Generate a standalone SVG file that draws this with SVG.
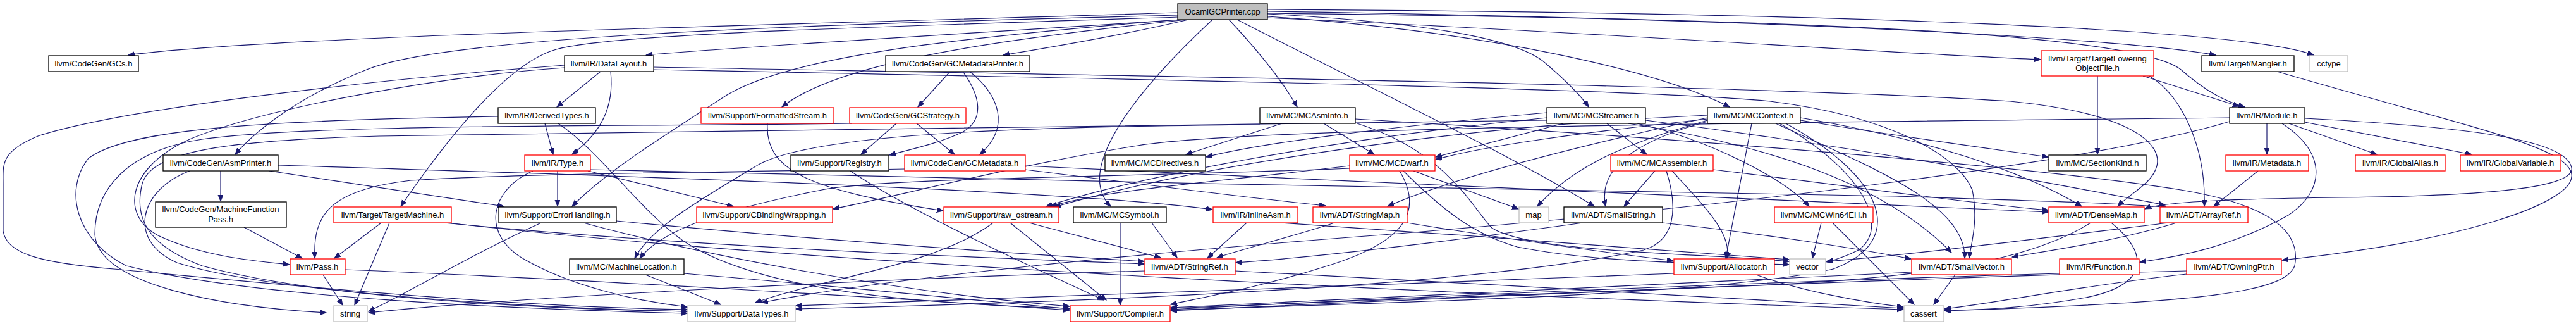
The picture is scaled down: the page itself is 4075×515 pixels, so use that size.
<svg xmlns="http://www.w3.org/2000/svg" width="4075" height="515" viewBox="0 0 4075 515">
<style>
.n rect{fill:#fff;stroke:#000;stroke-width:1.3}
.n.r rect{stroke:#ff0000}
.n.g rect{stroke:#bfbfbf}
.n.root rect{fill:#bfbfbf;stroke:#000}
.n text{font-family:"Liberation Sans",Arial,sans-serif;font-size:13px;text-anchor:middle;fill:#000}
#edges path{fill:none;stroke:#191970;stroke-width:1.2;marker-end:url(#a)}
</style>
<defs>
<marker id="a" markerUnits="userSpaceOnUse" markerWidth="12" markerHeight="9" refX="10" refY="4" orient="auto"><path d="M0,0 L10,4 L0,8 z" fill="#191970" stroke="#191970" stroke-width="1"/></marker>
</defs>
<rect width="4075" height="515" fill="#fff"/>
<g id="edges">
<path d="M1863,20 C1300,38 450,55 203,87"/>
<path d="M1863,24 C1200,40 700,60 580,110 C480,150 410,200 372,244"/>
<path d="M1870,31 C1500,55 1150,75 1022,87"/>
<path d="M1863,27 C1300,45 960,55 880,78 C800,100 700,230 634,326"/>
<path d="M1878,31 C1600,60 1330,95 1237,169"/>
<path d="M1866,31 C1500,60 1250,90 1150,150 C1050,215 960,270 905,326"/>
<path d="M1880,31 C1780,55 1660,75 1587,87"/>
<path d="M1918,31 C1790,150 1700,270 1757,326"/>
<path d="M1944,31 C1990,80 2030,130 2052,169"/>
<path d="M1957,31 C2150,130 2400,250 2522,326"/>
<path d="M2005,22 C2250,35 2400,60 2445,100 C2480,130 2500,150 2513,169"/>
<path d="M2005,26 C2350,50 2620,110 2736,169"/>
<path d="M2005,28 C2600,55 3000,85 3228,94"/>
<path d="M2005,18 C2800,30 3350,60 3505,87"/>
<path d="M2005,15 C2900,20 3550,45 3660,87"/>
<path d="M2005,21 C2900,30 3380,55 3450,110 C3490,145 3520,160 3551,169"/>
<path d="M349,270 L349,318"/>
<path d="M300,270 C220,300 200,380 280,415 C420,460 800,485 1087,492"/>
<path d="M426,270 L797,326"/>
<path d="M440,261 C900,275 1700,300 1918,331"/>
<path d="M386,359 L478,408"/>
<path d="M603,352 L529,408"/>
<path d="M616,352 L561,482"/>
<path d="M702,352 C1100,390 1500,405 1810,417"/>
<path d="M708,352 C1300,420 2400,470 3011,489"/>
<path d="M511,434 L542,482"/>
<path d="M546,426 C900,440 1400,470 1692,490"/>
<path d="M950,113 L881,169"/>
<path d="M966,113 C972,170 950,210 905,244"/>
<path d="M893,107 C700,120 420,170 300,220 C200,265 190,340 250,372 C320,405 400,412 458,418"/>
<path d="M893,103 C600,125 200,170 60,215 C0,240 5,260 5,290 L5,365 C10,400 60,415 180,425 C450,450 800,485 1087,489"/>
<path d="M1034,106 C1800,120 2800,135 3180,160 C3380,180 3420,230 3412,262 C3405,290 3370,305 3350,326"/>
<path d="M1034,110 C1800,125 2600,140 2800,160 C3000,185 3100,250 3120,300 C3130,350 3118,385 3115,408"/>
<path d="M862,195 L875,244"/>
<path d="M883,195 C950,240 1010,330 1080,380 C1200,460 1450,480 1692,487"/>
<path d="M788,184 C400,190 200,205 140,250 C100,300 120,380 200,420 C400,470 800,488 1087,495"/>
<path d="M1348,195 C1000,200 500,195 320,220 C200,238 150,300 150,370 C155,450 350,485 516,494"/>
<path d="M2447,190 C2000,198 1200,205 600,215 C350,222 240,240 225,290 C210,350 240,390 320,420 C500,470 850,488 1087,492"/>
<path d="M856,352 C750,400 650,460 583,492"/>
<path d="M975,349 C1300,380 1600,400 1810,413"/>
<path d="M923,352 C1100,400 1400,460 1692,484"/>
<path d="M882,270 L882,326"/>
<path d="M930,270 L1160,326"/>
<path d="M843,270 C775,300 760,370 830,410 C900,450 1000,475 1087,485"/>
<path d="M934,268 C1500,285 2500,300 3000,310 C3250,318 3380,322 3428,328"/>
<path d="M1214,195 C1210,270 1280,300 1492,333"/>
<path d="M1503,113 L1452,169"/>
<path d="M1523,113 C1550,150 1560,190 1520,210 C1480,228 1440,236 1407,245"/>
<path d="M1534,113 C1580,150 1600,200 1550,244"/>
<path d="M1450,195 L1510,244"/>
<path d="M1418,195 L1362,244"/>
<path d="M1431,267 C1100,272 800,275 650,285 C520,300 495,340 498,408"/>
<path d="M1622,262 C2200,290 2900,320 3240,335"/>
<path d="M1622,268 C1800,290 1950,310 2097,325"/>
<path d="M1345,270 C1450,340 1650,430 1746,474"/>
<path d="M2028,195 L1876,244"/>
<path d="M2094,195 L2174,244"/>
<path d="M1993,197 C1700,200 1300,205 1200,260 C1100,320 1030,360 1004,408"/>
<path d="M2147,195 C2290,240 2330,330 2360,360 C2420,400 2700,400 2830,413"/>
<path d="M2144,188 C2600,215 3200,260 3450,300 C3600,325 3640,370 3630,420 C3615,460 3500,478 3076,491"/>
<path d="M1822,352 L1862,407"/>
<path d="M1772,352 L1772,482"/>
<path d="M1972,352 L1910,408"/>
<path d="M2027,352 C2300,370 2700,400 2830,410"/>
<path d="M1628,352 L1836,407"/>
<path d="M1598,352 L1750,474"/>
<path d="M1571,352 C1480,420 1300,440 1195,478"/>
<path d="M1811,428 C1400,440 800,470 583,494"/>
<path d="M1954,428 C2300,445 2700,470 3011,487"/>
<path d="M2236,270 L2402,330"/>
<path d="M2214,270 C2250,330 2230,380 2100,420 C1990,455 1900,470 1852,481"/>
<path d="M2220,270 C2280,330 2330,370 2400,390 C2550,420 2750,415 2830,418"/>
<path d="M2135,266 C1800,280 1400,280 1300,300 C1150,330 1050,360 1012,408"/>
<path d="M2135,262 C1900,290 1750,300 1662,326"/>
<path d="M2447,178 C2200,200 2000,225 1908,248"/>
<path d="M2473,195 L2271,248"/>
<path d="M2542,195 L2605,244"/>
<path d="M2447,186 C2100,220 1800,280 1655,326"/>
<path d="M2576,195 C2800,230 2980,290 3087,399"/>
<path d="M2603,190 C3000,240 3300,300 3425,324"/>
<path d="M2590,195 C2700,220 2820,280 2862,326"/>
<path d="M2701,188 C2500,210 2350,230 2271,252"/>
<path d="M2848,190 C3000,215 3150,235 3240,248"/>
<path d="M2701,192 C2560,230 2530,280 2540,326"/>
<path d="M2701,190 C2600,220 2500,250 2432,326"/>
<path d="M2701,186 C2500,230 2300,280 2195,326"/>
<path d="M2771,195 L2730,408"/>
<path d="M2848,186 C3050,220 3200,270 3293,326"/>
<path d="M2809,195 C2950,260 3110,320 3108,408"/>
<path d="M2815,195 C2950,270 2990,360 2940,395 C2920,405 2905,410 2890,414"/>
<path d="M2701,182 C2300,200 1900,260 1668,327"/>
<path d="M2825,195 C2980,280 3020,380 2900,425 C2700,470 2100,480 1852,490"/>
<path d="M2618,270 L2569,326"/>
<path d="M2710,268 C2900,290 3100,320 3240,332"/>
<path d="M2636,270 C2655,330 2650,380 2600,395 C2300,460 1600,480 1259,488"/>
<path d="M2645,270 C2700,330 2740,370 2732,408"/>
<path d="M2881,352 L2867,408"/>
<path d="M2899,352 L3028,481"/>
<path d="M2111,352 C2040,375 1970,392 1925,407"/>
<path d="M2226,352 C2400,380 2550,400 2647,412"/>
<path d="M2504,352 C2300,380 2100,405 1955,415"/>
<path d="M2630,352 C2800,370 2950,395 3023,409"/>
<path d="M2778,434 C2850,460 2950,478 3011,485"/>
<path d="M2648,432 C2200,450 1600,470 1259,483"/>
<path d="M3307,352 C3200,420 3000,440 2800,450 C2400,465 2000,480 1852,487"/>
<path d="M3340,352 C3400,400 3400,450 3300,470 C3200,488 3120,490 3076,490"/>
<path d="M3093,434 L3059,481"/>
<path d="M3024,430 C2600,450 2200,470 1852,486"/>
<path d="M3443,352 C3350,380 3250,395 3183,406"/>
<path d="M3430,352 C3200,380 3000,405 2889,413"/>
<path d="M3258,432 C2800,445 2200,470 1852,489"/>
<path d="M3459,428 C3000,440 2300,470 1852,491"/>
<path d="M3459,433 C3300,450 3150,480 3076,488"/>
<path d="M3586,195 L3586,244"/>
<path d="M3621,195 L3760,244"/>
<path d="M3646,193 L3910,244"/>
<path d="M3646,187 C3900,200 4060,220 4068,265 C4075,300 3900,310 3700,312 C3550,314 3420,318 3393,330"/>
<path d="M3602,113 C3900,200 4060,230 4068,275 C4075,320 3900,380 3610,411"/>
<path d="M3610,195 C3680,240 3680,300 3620,340 C3530,390 3450,405 3385,414"/>
<path d="M3527,186 C3000,192 2000,198 1800,230 C1600,262 1420,310 1318,330"/>
<path d="M3527,192 C3300,260 2700,330 2200,370 C1800,400 1400,440 1205,478"/>
<path d="M3572,270 L3502,326"/>
<path d="M3318,120 L3318,244"/>
<path d="M3390,120 L3542,168"/>
<path d="M3400,120 C3450,150 3490,230 3487,326"/>
<path d="M1021,434 L1140,481"/>
<path d="M1082,432 C1300,450 1550,475 1692,488"/>
</g>
<g id="root" class="n root"><rect x="1863" y="6" width="142" height="25"/><text x="1934" y="23">OcamlGCPrinter.cpp</text></g>
<g id="gcs" class="n"><rect x="77" y="88" width="142" height="25"/><text x="148" y="105">llvm/CodeGen/GCs.h</text></g>
<g id="datalayout" class="n"><rect x="893" y="88" width="141" height="25"/><text x="963" y="105">llvm/IR/DataLayout.h</text></g>
<g id="gcmetadataprinter" class="n"><rect x="1401" y="88" width="228" height="25"/><text x="1515" y="105">llvm/CodeGen/GCMetadataPrinter.h</text></g>
<g id="tlof" class="n r"><rect x="3229" y="80" width="178" height="40"/><text x="3318" y="97">llvm/Target/TargetLowering</text><text x="3318" y="112">ObjectFile.h</text></g>
<g id="mangler" class="n"><rect x="3483" y="88" width="146" height="25"/><text x="3556" y="105">llvm/Target/Mangler.h</text></g>
<g id="cctype" class="n g"><rect x="3654" y="88" width="60" height="25"/><text x="3684" y="105">cctype</text></g>
<g id="derivedtypes" class="n"><rect x="788" y="170" width="154" height="25"/><text x="865" y="187">llvm/IR/DerivedTypes.h</text></g>
<g id="formattedstream" class="n r"><rect x="1109" y="170" width="210" height="25"/><text x="1214" y="187">llvm/Support/FormattedStream.h</text></g>
<g id="gcstrategy" class="n r"><rect x="1344" y="170" width="184" height="25"/><text x="1436" y="187">llvm/CodeGen/GCStrategy.h</text></g>
<g id="mcasminfo" class="n"><rect x="1993" y="170" width="151" height="25"/><text x="2068" y="187">llvm/MC/MCAsmInfo.h</text></g>
<g id="mcstreamer" class="n"><rect x="2447" y="170" width="156" height="25"/><text x="2525" y="187">llvm/MC/MCStreamer.h</text></g>
<g id="mccontext" class="n"><rect x="2701" y="170" width="147" height="25"/><text x="2774" y="187">llvm/MC/MCContext.h</text></g>
<g id="module" class="n"><rect x="3527" y="170" width="119" height="25"/><text x="3586" y="187">llvm/IR/Module.h</text></g>
<g id="asmprinter" class="n"><rect x="258" y="245" width="182" height="25"/><text x="349" y="262">llvm/CodeGen/AsmPrinter.h</text></g>
<g id="type" class="n r"><rect x="830" y="245" width="104" height="25"/><text x="882" y="262">llvm/IR/Type.h</text></g>
<g id="registry" class="n"><rect x="1251" y="245" width="155" height="25"/><text x="1328" y="262">llvm/Support/Registry.h</text></g>
<g id="gcmetadata" class="n r"><rect x="1431" y="245" width="191" height="25"/><text x="1526" y="262">llvm/CodeGen/GCMetadata.h</text></g>
<g id="mcdirectives" class="n"><rect x="1748" y="245" width="159" height="25"/><text x="1827" y="262">llvm/MC/MCDirectives.h</text></g>
<g id="mcdwarf" class="n r"><rect x="2135" y="245" width="135" height="25"/><text x="2202" y="262">llvm/MC/MCDwarf.h</text></g>
<g id="mcassembler" class="n r"><rect x="2548" y="245" width="162" height="25"/><text x="2629" y="262">llvm/MC/MCAssembler.h</text></g>
<g id="sectionkind" class="n"><rect x="3241" y="245" width="154" height="25"/><text x="3318" y="262">llvm/MC/SectionKind.h</text></g>
<g id="metadata" class="n r"><rect x="3521" y="245" width="131" height="25"/><text x="3586" y="262">llvm/IR/Metadata.h</text></g>
<g id="globalalias" class="n r"><rect x="3726" y="245" width="142" height="25"/><text x="3797" y="262">llvm/IR/GlobalAlias.h</text></g>
<g id="globalvariable" class="n r"><rect x="3892" y="245" width="159" height="25"/><text x="3971" y="262">llvm/IR/GlobalVariable.h</text></g>
<g id="mfpass" class="n"><rect x="246" y="319" width="207" height="40"/><text x="349" y="335">llvm/CodeGen/MachineFunction</text><text x="349" y="351">Pass.h</text></g>
<g id="targetmachine" class="n r"><rect x="528" y="327" width="186" height="25"/><text x="621" y="344">llvm/Target/TargetMachine.h</text></g>
<g id="errorhandling" class="n"><rect x="789" y="327" width="186" height="25"/><text x="882" y="344">llvm/Support/ErrorHandling.h</text></g>
<g id="cbinding" class="n r"><rect x="1102" y="327" width="215" height="25"/><text x="1209" y="344">llvm/Support/CBindingWrapping.h</text></g>
<g id="rawostream" class="n r"><rect x="1493" y="327" width="182" height="25"/><text x="1584" y="344">llvm/Support/raw_ostream.h</text></g>
<g id="mcsymbol" class="n"><rect x="1698" y="327" width="147" height="25"/><text x="1771" y="344">llvm/MC/MCSymbol.h</text></g>
<g id="inlineasm" class="n r"><rect x="1919" y="327" width="134" height="25"/><text x="1986" y="344">llvm/IR/InlineAsm.h</text></g>
<g id="stringmap" class="n r"><rect x="2077" y="327" width="149" height="25"/><text x="2151" y="344">llvm/ADT/StringMap.h</text></g>
<g id="map" class="n g"><rect x="2403" y="327" width="47" height="25"/><text x="2426" y="344">map</text></g>
<g id="smallstring" class="n"><rect x="2474" y="327" width="156" height="25"/><text x="2552" y="344">llvm/ADT/SmallString.h</text></g>
<g id="mcwin64eh" class="n r"><rect x="2807" y="327" width="156" height="25"/><text x="2885" y="344">llvm/MC/MCWin64EH.h</text></g>
<g id="densemap" class="n r"><rect x="3241" y="327" width="151" height="25"/><text x="3316" y="344">llvm/ADT/DenseMap.h</text></g>
<g id="arrayref" class="n r"><rect x="3417" y="327" width="139" height="25"/><text x="3486" y="344">llvm/ADT/ArrayRef.h</text></g>
<g id="pass" class="n r"><rect x="459" y="409" width="87" height="25"/><text x="502" y="426">llvm/Pass.h</text></g>
<g id="machinelocation" class="n"><rect x="901" y="409" width="181" height="25"/><text x="991" y="426">llvm/MC/MachineLocation.h</text></g>
<g id="stringref" class="n r"><rect x="1811" y="409" width="143" height="25"/><text x="1882" y="426">llvm/ADT/StringRef.h</text></g>
<g id="allocator" class="n r"><rect x="2648" y="409" width="159" height="25"/><text x="2727" y="426">llvm/Support/Allocator.h</text></g>
<g id="vector" class="n g"><rect x="2831" y="409" width="57" height="25"/><text x="2859" y="426">vector</text></g>
<g id="smallvector" class="n r"><rect x="3024" y="409" width="158" height="25"/><text x="3103" y="426">llvm/ADT/SmallVector.h</text></g>
<g id="function" class="n r"><rect x="3258" y="409" width="126" height="25"/><text x="3321" y="426">llvm/IR/Function.h</text></g>
<g id="owningptr" class="n r"><rect x="3459" y="409" width="150" height="25"/><text x="3534" y="426">llvm/ADT/OwningPtr.h</text></g>
<g id="string" class="n g"><rect x="528" y="483" width="53" height="25"/><text x="554" y="500">string</text></g>
<g id="datatypes" class="n g"><rect x="1088" y="483" width="170" height="25"/><text x="1173" y="500">llvm/Support/DataTypes.h</text></g>
<g id="compiler" class="n r"><rect x="1693" y="483" width="158" height="25"/><text x="1772" y="500">llvm/Support/Compiler.h</text></g>
<g id="cassert" class="n g"><rect x="3012" y="483" width="63" height="25"/><text x="3043" y="500">cassert</text></g>
</svg>
